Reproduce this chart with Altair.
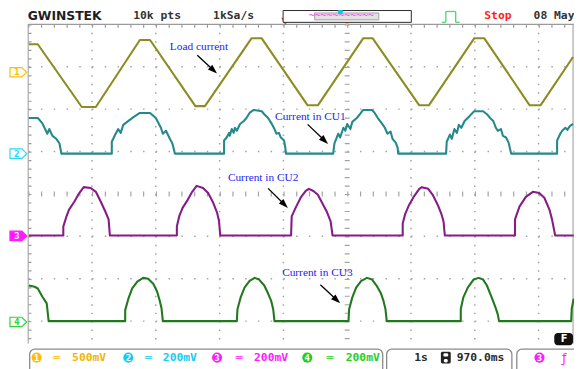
import math
import altair as alt
import pandas as pd

# ---------------- screen geometry (1 s/div horizontally, levels in divisions) -------------
PX_PER_S = 64.7
PX_PER_DIV = 43.0
xs = alt.Scale(domain=[-5, 5], range=[20.5, 667.5])
ys = alt.Scale(domain=[-4, 4], range=[358, 14])
T_LEFT, T_RIGHT = -5.0, 3.56
V_TOP, V_BOTTOM = 4.0, -3.53

# ---------------- traces: time (s, from screen centre) and level (div) ----------------
CH1_T = [-4.99, -4.85, -4.16, -3.94, -3.25, -3.09, -2.38, -2.23, -1.50, -1.34, -0.62, -0.46,
         0.25, 0.40, 1.13, 1.28, 1.99, 2.15, 2.86, 3.03, 3.54]
CH1_V = [3.53, 3.53, 2.05, 2.05, 3.63, 3.63, 2.07, 2.07, 3.67, 3.67, 2.09, 2.09,
         3.67, 3.67, 2.09, 2.09, 3.67, 3.67, 2.09, 2.09, 3.23]

CH2_T = [-4.99, -4.85, -4.78, -4.70, -4.67, -4.62, -4.56, -4.51, -4.48, -3.69,
         -3.69, -3.63, -3.59, -3.55, -3.51, -3.45, -3.35, -3.25, -3.09, -3.00, -2.92, -2.89, -2.84, -2.78, -2.74, -2.70,
         -1.93, -1.93, -1.89, -1.85, -1.84, -1.81, -1.78, -1.76, -1.73, -1.68, -1.62, -1.58, -1.53, -1.47, -1.34,
         -1.30, -1.24, -1.19, -1.14, -1.11, -1.07, -1.04, -0.99, -0.97, -0.96,
         -0.22, -0.20, -0.14, -0.11, -0.06, -0.03, 0.00, 0.05, 0.08, 0.15, 0.20, 0.25, 0.39, 0.43, 0.48, 0.54,
         0.59, 0.63, 0.68, 0.71, 0.76, 0.79, 0.80,
         1.55, 1.56, 1.61, 1.64, 1.68, 1.72, 1.75, 1.79, 1.84, 1.92, 1.99, 2.13, 2.19, 2.24, 2.29, 2.33,
         2.36, 2.41, 2.44, 2.49, 2.53, 2.57,
         3.29, 3.29, 3.34, 3.37, 3.42, 3.45, 3.49, 3.54]
CH2_V = [1.79, 1.79, 1.67, 1.42, 1.53, 1.37, 1.30, 1.19, 0.95, 0.95,
         1.23, 1.42, 1.53, 1.44, 1.63, 1.70, 1.81, 1.91, 1.91, 1.79, 1.56, 1.42, 1.49, 1.30, 1.19, 0.95,
         0.95, 1.26, 1.33, 1.44, 1.37, 1.53, 1.44, 1.56, 1.49, 1.65, 1.72, 1.79, 1.91, 1.98, 1.95,
         1.88, 1.79, 1.67, 1.53, 1.42, 1.44, 1.33, 1.26, 1.09, 0.95,
         0.95, 1.19, 1.42, 1.33, 1.56, 1.49, 1.65, 1.53, 1.70, 1.79, 1.88, 1.98, 1.98, 1.91, 1.79, 1.67,
         1.56, 1.42, 1.47, 1.30, 1.21, 1.09, 0.95,
         0.95, 1.23, 1.40, 1.30, 1.53, 1.44, 1.63, 1.56, 1.72, 1.84, 1.95, 1.95, 1.88, 1.79, 1.72, 1.56,
         1.49, 1.53, 1.37, 1.33, 1.21, 0.95,
         0.95, 1.26, 1.42, 1.49, 1.56, 1.51, 1.60, 1.65]

CH3_T = [-4.99, -4.45, -4.45, -4.40, -4.36, -4.28, -4.20, -4.13, -4.02, -3.94, -3.86, -3.79, -3.74, -3.72,
         -2.67, -2.67, -2.63, -2.58, -2.50, -2.43, -2.36, -2.26, -2.18, -2.10, -2.04, -2.01, -1.99,
         -0.88, -0.87, -0.80, -0.73, -0.65, -0.60, -0.53, -0.46, -0.40, -0.32, -0.26, -0.23,
         0.87, 0.87, 0.91, 0.97, 1.05, 1.13, 1.17, 1.27, 1.34, 1.42, 1.48, 1.51, 1.53,
         2.63, 2.63, 2.70, 2.80, 2.91, 3.01, 3.09, 3.17, 3.21, 3.26, 3.55]
CH3_V = [-0.98, -0.98, -0.77, -0.53, -0.37, -0.19, 0.02, 0.16, 0.14, 0.05, -0.19, -0.42, -0.60, -0.98,
         -0.98, -0.77, -0.51, -0.33, -0.14, 0.05, 0.19, 0.14, 0.02, -0.21, -0.44, -0.63, -0.98,
         -0.98, -0.53, -0.30, -0.09, 0.07, 0.12, 0.07, -0.02, -0.19, -0.42, -0.65, -0.98,
         -0.98, -0.70, -0.47, -0.26, -0.05, 0.12, 0.16, 0.12, -0.02, -0.26, -0.49, -0.65, -0.98,
         -0.98, -0.60, -0.30, -0.07, 0.05, 0.02, -0.09, -0.37, -0.60, -0.98, -0.98]

CH4_T = [-4.99, -4.90, -4.85, -4.78, -4.71, -4.70, -4.68,
         -3.48, -3.48, -3.43, -3.37, -3.29, -3.20, -3.12, -3.04, -2.98, -2.94, -2.91, -2.89,
         -1.73, -1.72, -1.67, -1.61, -1.53, -1.45, -1.38, -1.30, -1.24, -1.19, -1.16, -1.14,
         0.02, 0.03, 0.08, 0.14, 0.22, 0.31, 0.39, 0.46, 0.53, 0.57, 0.60, 0.62,
         1.78, 1.78, 1.82, 1.89, 1.98, 2.06, 2.13, 2.19, 2.26, 2.33, 2.36, 2.38,
         3.51, 3.52, 3.55]
CH4_V = [-2.16, -2.19, -2.23, -2.42, -2.58, -2.72, -3.00,
         -3.00, -2.74, -2.47, -2.23, -2.07, -1.98, -2.00, -2.12, -2.30, -2.51, -2.70, -3.00,
         -3.00, -2.72, -2.44, -2.21, -2.05, -1.98, -2.02, -2.16, -2.35, -2.53, -2.72, -3.00,
         -3.00, -2.72, -2.44, -2.21, -2.05, -1.98, -2.02, -2.16, -2.35, -2.53, -2.72, -3.00,
         -3.00, -2.72, -2.44, -2.21, -2.02, -1.98, -2.02, -2.16, -2.42, -2.70, -2.84, -3.00,
         -3.00, -2.70, -2.47]

CH_NAMES = ["CH1", "CH2", "CH3", "CH4"]
CH_TRACE_COLORS = ["#8c8c22", "#25888a", "#861c86", "#22781f"]
CH_TAG_LEVEL = [2.87, 0.95, -0.99, -3.02]
CH_TAG_DIGIT = ["1", "2", "3", "4"]
CH_TAG_STROKE = ["#f2c21b", "#2fd8f0", "#ff1aff", "#2fd52f"]
CH_TAG_FILL = ["#fffdf0", "#f2feff", "#ff1aff", "#ffffff"]
CH_TAG_TEXT = ["#f2c21b", "#2fd8f0", "#ffe8ff", "#2fd52f"]

# ---------------- annotations ----------------
ANN_TEXT = ["Load current", "Current in CU1", "Current in CU2", "Current in CU3"]
ANN_T = [-2.78, -1.13, -1.87, -1.02]
ANN_V = [3.47, 1.81, 0.37, -1.87]
ARR_T0 = [-2.35, -0.62, -1.24, -0.42]
ARR_V0 = [3.27, 1.64, 0.13, -2.14]
ARR_T1 = [-2.04, -0.30, -0.93, -0.11]
ARR_V1 = [2.84, 1.18, -0.33, -2.58]

GRID_T = [-4, -3, -2, -1, 1, 2, 3]
GRID_V = [3, 2, 1, -1, -2, -3]
TRIG_T = -0.97   # H position 970.0 ms

GRID_COLOR = "#a3a3a3"

# ---------------- grid ----------------
X = lambda f: alt.X(f, scale=xs, axis=None)
Y = lambda f: alt.Y(f, scale=ys, axis=None)

vgrid = alt.Chart(pd.DataFrame({"t": GRID_T, "v0": V_TOP, "v1": V_BOTTOM})).mark_rule(
    color=GRID_COLOR, strokeWidth=1.5, strokeDash=[1.5, 7.1]
).encode(x=X("t:Q"), y=Y("v0:Q"), y2="v1:Q")

hgrid = alt.Chart(pd.DataFrame({"v": GRID_V, "t0": T_LEFT, "t1": T_RIGHT})).mark_rule(
    color=GRID_COLOR, strokeWidth=1.5, strokeDash=[1.5, 11.44]
).encode(x=X("t0:Q"), x2="t1:Q", y=Y("v:Q"))

vcenter = alt.Chart(pd.DataFrame({"t": [0], "v0": [V_TOP], "v1": [V_BOTTOM]})).mark_rule(
    color=GRID_COLOR, strokeWidth=5, strokeDash=[1.2, 7.4]
).encode(x=X("t:Q"), y=Y("v0:Q"), y2="v1:Q")

hcenter = alt.Chart(pd.DataFrame({"v": [0], "t0": [T_LEFT], "t1": [T_RIGHT]})).mark_rule(
    color=GRID_COLOR, strokeWidth=5, strokeDash=[1.2, 11.74]
).encode(x=X("t0:Q"), x2="t1:Q", y=Y("v:Q"))

border_h = alt.Chart(pd.DataFrame({"v": [V_TOP], "t0": [T_LEFT], "t1": [T_RIGHT]})).mark_rule(
    color="#9a9a9a", strokeWidth=1.2
).encode(x=X("t0:Q"), x2="t1:Q", y=Y("v:Q"))
border_v = alt.Chart(pd.DataFrame({"t": [T_LEFT, 3.54], "v0": V_TOP, "v1": V_BOTTOM})).mark_rule(
    color="#a8a8a8", strokeWidth=1.2
).encode(x=X("t:Q"), y=Y("v0:Q"), y2="v1:Q")
ruler_top = alt.Chart(pd.DataFrame({"v": [V_TOP - 1.8 / PX_PER_DIV], "t0": [T_LEFT], "t1": [T_RIGHT]})).mark_rule(
    color="#9a9a9a", strokeWidth=3.4, strokeDash=[1.2, 11.74]
).encode(x=X("t0:Q"), x2="t1:Q", y=Y("v:Q"))
ruler_left = alt.Chart(pd.DataFrame({"t": [T_LEFT + 1.7 / PX_PER_S], "v0": [V_TOP], "v1": [V_BOTTOM]})).mark_rule(
    color="#9a9a9a", strokeWidth=3.2, strokeDash=[1.2, 7.4]
).encode(x=X("t:Q"), y=Y("v0:Q"), y2="v1:Q")

# ---------------- traces ----------------
rows = []
for name, ts, vs in zip(CH_NAMES, [CH1_T, CH2_T, CH3_T, CH4_T], [CH1_V, CH2_V, CH3_V, CH4_V]):
    for i, (t, v) in enumerate(zip(ts, vs)):
        rows.append({"ch": name, "t": t, "v": v, "i": i})
traces = alt.Chart(pd.DataFrame(rows)).mark_line(strokeWidth=2.1, strokeJoin="round").encode(
    x=X("t:Q"), y=Y("v:Q"),
    color=alt.Color("ch:N", scale=alt.Scale(domain=CH_NAMES, range=CH_TRACE_COLORS), legend=None),
    detail="ch:N", order=alt.Order("i:Q"),
)

# ---------------- annotations ----------------
HEAD_BACK = 6.0
arr_rows = []
for t0, v0, t1, v1 in zip(ARR_T0, ARR_V0, ARR_T1, ARR_V1):
    dx = (t1 - t0) * PX_PER_S
    dy = -(v1 - v0) * PX_PER_DIV
    L = math.hypot(dx, dy)
    ux, uy = dx / L, dy / L
    ang = (math.degrees(math.atan2(dx, -dy)) + 360) % 360
    arr_rows.append({"t0": t0, "v0": v0,
                     "hc_t": t1 - ux * HEAD_BACK / PX_PER_S,
                     "hc_v": v1 + uy * HEAD_BACK / PX_PER_DIV,
                     "ang": ang})
arr_df = pd.DataFrame(arr_rows)
shafts = alt.Chart(arr_df).mark_rule(color="black", strokeWidth=1.3).encode(
    x=X("t0:Q"), y=Y("v0:Q"), x2="hc_t:Q", y2="hc_v:Q")
heads = alt.Chart(arr_df).mark_point(
    shape="M0,-1L0.55,0.6L-0.55,0.6Z", filled=True, color="black", opacity=1, size=144
).encode(x=X("hc_t:Q"), y=Y("hc_v:Q"), angle=alt.Angle("ang:Q", scale=None))
ann = alt.Chart(pd.DataFrame({"t": ANN_T, "v": ANN_V, "txt": ANN_TEXT})).mark_text(
    align="left", baseline="middle", font="Liberation Serif", fontSize=11.5, color="#1c1cf0"
).encode(x=X("t:Q"), y=Y("v:Q"), text="txt:N")

# ---------------- channel tags ----------------
tag_df = pd.DataFrame({"v": CH_TAG_LEVEL, "d": CH_TAG_DIGIT, "s": CH_TAG_STROKE,
                       "f": CH_TAG_FILL, "c": CH_TAG_TEXT})
tags = alt.Chart(tag_df).mark_point(
    shape="M-1,-0.56L0.42,-0.56L1,0L0.42,0.56L-1,0.56Z", filled=True, size=289, opacity=1, strokeWidth=1.2
).encode(x=alt.value(10.5), y=Y("v:Q"),
         fill=alt.Fill("f:N", scale=None), stroke=alt.Stroke("s:N", scale=None))
tag_txt = alt.Chart(tag_df).mark_text(
    font="DejaVu Sans Mono", fontWeight="bold", fontSize=9.5, align="center", baseline="middle"
).encode(x=alt.value(9), y=Y("v:Q"), text="d:N", color=alt.Color("c:N", scale=None))

# ---------------- trigger markers ----------------
trig = alt.Chart(pd.DataFrame({"t": [TRIG_T]})).mark_point(
    shape="triangle-down", filled=True, color="#ff3a10", size=70, opacity=1
).encode(x=X("t:Q"), y=alt.value(11))
centre_mark = alt.Chart(pd.DataFrame({"t": [0.0]})).mark_point(
    shape="triangle-down", filled=False, color="#ffa080", size=70, strokeWidth=1.2, opacity=1
).encode(x=X("t:Q"), y=alt.value(11))

# ---------------- header chrome (pixel units) ----------------
PX = lambda f: alt.X(f, scale=None, axis=None)
PY = lambda f: alt.Y(f, scale=None, axis=None)

logo = alt.Chart(pd.DataFrame({"x": [20], "y": [5.5], "s": ["GWINSTEK"]})).mark_text(
    font="DejaVu Sans", fontWeight="bold", fontSize=12.5, align="left", baseline="middle", color="#1e1e1e"
).encode(x=PX("x:Q"), y=PY("y:Q"), text="s:N")

HEAD_TXT = ["10k pts", "1kSa/s", "Stop", "08 May"]
HEAD_X = [127, 208, 483, 533]
HEAD_C = ["#333333", "#333333", "#ff2020", "#333333"]
head_txt = alt.Chart(pd.DataFrame({"x": HEAD_X, "y": 6, "s": HEAD_TXT, "c": HEAD_C})).mark_text(
    font="DejaVu Sans Mono", fontWeight="bold", fontSize=11.5, align="left", baseline="middle"
).encode(x=PX("x:Q"), y=PY("y:Q"), text="s:N", color=alt.Color("c:N", scale=None))

box_df = pd.DataFrame({"x": [279, 311, 335], "x2": [409, 376, 339], "y": [0, 2.5, 0], "y2": [12, 9.5, 3],
                       "f": ["#ffffff", "#e2e2e2", "#11c8dd"], "s": ["#2a2a2a", "#a0a0a0", "#11c8dd"]})
boxes = alt.Chart(box_df).mark_rect(strokeWidth=1).encode(
    x=PX("x:Q"), x2="x2:Q", y=PY("y:Q"), y2="y2:Q",
    fill=alt.Fill("f:N", scale=None), stroke=alt.Stroke("s:N", scale=None))
wave = alt.Chart(pd.DataFrame({"x": [305], "y": [6], "s": ["~~~~~~~~~~~"]})).mark_text(
    font="DejaVu Sans Mono", fontSize=10, align="left", baseline="middle", color="#ff4cff"
).encode(x=PX("x:Q"), y=PY("y:Q"), text="s:N")

PULSE_X = [440, 444, 444, 454, 454]
PULSE_X2 = [444, 444, 454, 454, 458]
PULSE_Y = [12, 12, 1, 1, 12]
PULSE_Y2 = [12, 1, 1, 12, 12]
pulse = alt.Chart(pd.DataFrame({"x": PULSE_X, "x2": PULSE_X2, "y": PULSE_Y, "y2": PULSE_Y2})).mark_rule(
    color="#4fdc6e", strokeWidth=1.4
).encode(x=PX("x:Q"), x2="x2:Q", y=PY("y:Q"), y2="y2:Q")

# ---------------- bottom status bar (pixel units) ----------------
frames = alt.Chart(pd.DataFrame({"x": [22, 384, 516], "x2": [380, 511, 590]})).mark_rect(
    fill="white", stroke="#8a8a8a", strokeWidth=1.3, cornerRadius=5
).encode(x=PX("x:Q"), x2="x2:Q", y=alt.value(343.5), y2=alt.value(372))

CIRC_X = [29, 122, 212, 303.5, 539]
CIRC_D = ["1", "2", "3", "4", "3"]
CIRC_C = ["#ffbe00", "#16cdf0", "#ff1cff", "#1fd01f", "#ff1cff"]
circ_df = pd.DataFrame({"x": CIRC_X, "y": 352, "d": CIRC_D, "c": CIRC_C})
circles = alt.Chart(circ_df).mark_point(shape="circle", filled=True, size=105, opacity=1).encode(
    x=PX("x:Q"), y=PY("y:Q"), color=alt.Color("c:N", scale=None))
circ_txt = alt.Chart(circ_df).mark_text(
    font="DejaVu Sans Mono", fontWeight="bold", fontSize=9, align="center", baseline="middle", color="white"
).encode(x=PX("x:Q"), y=PY("y:Q"), text="d:N")

BAR_TXT = ["═", "500mV", "═", "200mV", "═", "200mV", "═", "200mV", "1s", "970.0ms"]
BAR_X = [46, 65, 139, 157, 231, 249.5, 323, 342.5, 412, 455]
BAR_C = ["#ffbe00", "#f2b600", "#16cdf0", "#16cdf0", "#ff1cff", "#ff1cff", "#1fd01f", "#1fd01f",
         "#2a2a2a", "#2a2a2a"]
bar_txt = alt.Chart(pd.DataFrame({"x": BAR_X, "y": 352, "s": BAR_TXT, "c": BAR_C})).mark_text(
    font="DejaVu Sans Mono", fontWeight="bold", fontSize=11.5, align="left", baseline="middle"
).encode(x=PX("x:Q"), y=PY("y:Q"), text="s:N", color=alt.Color("c:N", scale=None))

slope = alt.Chart(pd.DataFrame({"x": [564], "y": [352], "s": ["ƒ"]})).mark_text(
    font="DejaVu Sans", fontSize=13, align="center", baseline="middle", color="#ff1cff"
).encode(x=PX("x:Q"), y=PY("y:Q"), text="s:N")

disk_df = pd.DataFrame({"x": [439, 441.5, 442], "x2": [449, 446.5, 446], "y": [346, 347.5, 353.5],
                        "y2": [358, 351, 357], "f": ["#222222", "#ffffff", "#ffffff"]})
disk = alt.Chart(disk_df).mark_rect(cornerRadius=1.5).encode(
    x=PX("x:Q"), x2="x2:Q", y=PY("y:Q"), y2="y2:Q", fill=alt.Fill("f:N", scale=None))

fbox = alt.Chart(pd.DataFrame({"x": [554], "x2": [573], "y": [327], "y2": [339.5]})).mark_rect(
    fill="#111111", cornerRadius=3.5
).encode(x=PX("x:Q"), x2="x2:Q", y=PY("y:Q"), y2="y2:Q")
ftxt = alt.Chart(pd.DataFrame({"x": [564], "y": [333.5], "s": ["F"]})).mark_text(
    font="DejaVu Sans", fontWeight="bold", fontSize=10, align="center", baseline="middle", color="white"
).encode(x=PX("x:Q"), y=PY("y:Q"), text="s:N")

chart = alt.layer(
    vgrid, hgrid, vcenter, hcenter, border_h, border_v, ruler_top, ruler_left,
    traces, shafts, heads, ann, tags, tag_txt, trig, centre_mark,
    logo, boxes, wave, head_txt, pulse,
    frames, circles, circ_txt, bar_txt, slope, disk, fbox, ftxt,
).resolve_scale(x="independent", y="independent").properties(
    width=574, height=361, padding=0, autosize=alt.AutoSizeParams(type="none"), background="white"
).configure_view(stroke=None)

chart.save("out.html", embed_options={"renderer": "svg", "actions": False})
